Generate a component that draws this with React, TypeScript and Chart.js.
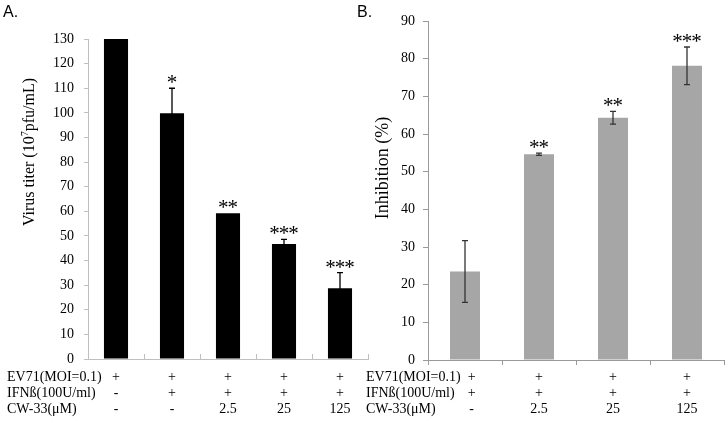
import { useEffect, useRef } from 'react';
import { Chart, registerables } from 'chart.js';

Chart.register(...registerables);

// ---------- Data ----------
const rowLabels = ['EV71(MOI=0.1)', 'IFNß(100U/ml)', 'CW-33(μM)'];

// Panel A: virus titer
const categoriesA = ['Virus', 'IFN', 'CW-33 2.5', 'CW-33 25', 'CW-33 125'];
const virusTiter = [130, 99.8, 59.2, 46.7, 28.7];
const virusTiterErr = [0, 10.2, 0, 1.9, 6.4];
const starsA = ['', '*', '**', '***', '***'];
const rowValuesA = [
  ['+', '+', '+', '+', '+'],
  ['-', '+', '+', '+', '+'],
  ['-', '-', '2.5', '25', '125'],
];
const yMaxA = 130;

// Panel B: inhibition
const categoriesB = ['IFN', 'CW-33 2.5', 'CW-33 25', 'CW-33 125'];
const inhibition = [23.5, 54.6, 64.3, 78.1];
const inhibitionErr = [8.2, 0.3, 1.7, 5.0];
const starsB = ['', '**', '**', '***'];
const rowValuesB = [
  ['+', '+', '+', '+'],
  ['+', '+', '+', '+'],
  ['-', '2.5', '25', '125'],
];
const yMaxB = 90;

const SERIF = '"Liberation Serif", "Times New Roman", serif';
const SANS = '"Liberation Sans", Arial, sans-serif';

type Panel = {
  id: string;
  letter: string;
  letterX: number;
  labels: string[];
  values: number[];
  errors: number[];
  stars: string[];
  rows: string[][];
  yMax: number;
  barColor: string;
  axisColor: string;
  errColor: string;
  barPct: number;
  yWidth: number;
  xHeight: number;
  padTop: number;
  padRight: number;
  tickLen: number;
  tickPad: number;
  insideXTicks: boolean;
  rowLabelX: number;
  titleParts: { text: string; sup?: boolean }[];
  titleX: number;
  titleY: number;
  titleSize: number;
};

function drawStars(ctx: CanvasRenderingContext2D, s: string, cx: number, cy: number) {
  if (!s) return;
  ctx.save();
  ctx.font = `21px ${SERIF}`;
  ctx.fillStyle = '#000';
  ctx.textAlign = 'center';
  ctx.textBaseline = 'alphabetic';
  const m = ctx.measureText('*');
  const off = (m.actualBoundingBoxAscent - m.actualBoundingBoxDescent) / 2;
  const n = s.length;
  const sp = 9.5;
  for (let k = 0; k < n; k++) {
    const x = cx + (k - (n - 1) / 2) * sp;
    ctx.fillText('*', x, cy + off);
  }
  ctx.restore();
}

function makePlugin(p: Panel) {
  return {
    id: 'panel' + p.id,
    afterDatasetsDraw(chart: any) {
      const ctx: CanvasRenderingContext2D = chart.ctx;
      const y = chart.scales.y;
      const meta = chart.getDatasetMeta(0);
      meta.data.forEach((bar: any, i: number) => {
        const v = p.values[i];
        const e = p.errors[i];
        const cx = bar.x;
        const yt = y.getPixelForValue(v + e);
        if (e > 0) {
          const yb = y.getPixelForValue(v - e);
          ctx.save();
          ctx.strokeStyle = p.errColor;
          ctx.lineWidth = 1.3;
          ctx.beginPath();
          ctx.moveTo(cx, yt);
          ctx.lineTo(cx, yb);
          ctx.moveTo(cx - 3, yt);
          ctx.lineTo(cx + 3, yt);
          ctx.moveTo(cx - 3, yb);
          ctx.lineTo(cx + 3, yb);
          ctx.stroke();
          ctx.restore();
        }
        drawStars(ctx, p.stars[i], cx, yt - 9);
      });
    },
    afterDraw(chart: any) {
      const ctx: CanvasRenderingContext2D = chart.ctx;
      const x = chart.scales.x;
      const area = chart.chartArea;
      ctx.save();
      // inside tick marks on x axis
      if (p.insideXTicks) {
        ctx.strokeStyle = p.axisColor;
        ctx.lineWidth = 1;
        const n = p.labels.length;
        const step = (area.right - area.left) / n;
        ctx.beginPath();
        for (let i = 1; i <= n; i++) {
          const px = Math.round(area.left + step * i) + 0.5;
          ctx.moveTo(px, area.bottom);
          ctx.lineTo(px, area.bottom - 5);
        }
        ctx.stroke();
      }
      // row table
      ctx.font = `14px ${SERIF}`;
      ctx.fillStyle = '#000';
      ctx.textBaseline = 'middle';
      const rowYs = [377, 393, 409];
      let maxW = 0;
      rowLabels.forEach((l) => (maxW = Math.max(maxW, ctx.measureText(l).width)));
      const minCol = p.rowLabelX + maxW + 11;
      rowLabels.forEach((l, r) => {
        ctx.textAlign = 'left';
        ctx.fillText(l, p.rowLabelX, rowYs[r]);
        ctx.textAlign = 'center';
        p.rows[r].forEach((val, i) => {
          const cx = Math.max(x.getPixelForValue(i), minCol);
          ctx.fillText(val, cx, rowYs[r]);
        });
      });
      // y title
      ctx.translate(p.titleX, p.titleY);
      ctx.rotate(-Math.PI / 2);
      const mainFont = `${p.titleSize}px ${SERIF}`;
      const supFont = `${Math.round(p.titleSize * 0.65)}px ${SERIF}`;
      let total = 0;
      p.titleParts.forEach((part) => {
        ctx.font = part.sup ? supFont : mainFont;
        total += ctx.measureText(part.text).width;
      });
      let cur = -total / 2;
      ctx.textAlign = 'left';
      ctx.textBaseline = 'middle';
      p.titleParts.forEach((part) => {
        ctx.font = part.sup ? supFont : mainFont;
        ctx.fillText(part.text, cur, part.sup ? -p.titleSize * 0.3 : 0);
        cur += ctx.measureText(part.text).width;
      });
      ctx.restore();
      // panel letter
      ctx.save();
      ctx.font = `16px ${SANS}`;
      ctx.fillStyle = '#000';
      ctx.textAlign = 'left';
      ctx.textBaseline = 'alphabetic';
      ctx.fillText(p.letter, p.letterX, 17);
      ctx.restore();
    },
  };
}

function makeConfig(p: Panel): any {
  return {
    type: 'bar',
    data: {
      labels: p.labels,
      datasets: [
        {
          data: p.values,
          backgroundColor: p.barColor,
          borderWidth: 0,
          barPercentage: p.barPct,
          categoryPercentage: 1,
        },
      ],
    },
    options: {
      responsive: false,
      animation: false,
      devicePixelRatio: 1,
      layout: { padding: { top: p.padTop, right: p.padRight, left: 0, bottom: 0 } },
      plugins: { legend: { display: false }, tooltip: { enabled: false } },
      scales: {
        x: {
          offset: true,
          ticks: { display: false },
          grid: {
            display: !p.insideXTicks,
            drawOnChartArea: false,
            tickLength: 5,
            color: p.axisColor,
            offset: true,
          },
          border: { display: true, color: p.axisColor, width: 1 },
          afterFit: (s: any) => {
            s.height = p.xHeight;
          },
        },
        y: {
          min: 0,
          max: p.yMax,
          ticks: {
            stepSize: 10,
            color: '#000',
            font: { family: SERIF, size: 14 },
            padding: p.tickPad,
          },
          grid: {
            drawOnChartArea: false,
            tickLength: p.tickLen,
            color: p.axisColor,
          },
          border: { display: true, color: p.axisColor, width: 1 },
          afterFit: (s: any) => {
            s.width = p.yWidth;
          },
        },
      },
    },
    plugins: [makePlugin(p)],
  };
}

const panelA: Panel = {
  id: 'A',
  letter: 'A.',
  letterX: 3,
  labels: categoriesA,
  values: virusTiter,
  errors: virusTiterErr,
  stars: starsA,
  rows: rowValuesA,
  yMax: yMaxA,
  barColor: '#000000',
  axisColor: '#bfbfbf',
  errColor: '#000000',
  barPct: 0.43,
  yWidth: 88,
  xHeight: 64,
  padTop: 39,
  padRight: 4,
  tickLen: 4,
  tickPad: 10,
  insideXTicks: true,
  rowLabelX: 7,
  titleParts: [{ text: 'Virus titer (10' }, { text: '7', sup: true }, { text: 'pfu/mL)' }],
  titleX: 30,
  titleY: 152,
  titleSize: 16,
};

const B_LEFT = 345;
const panelB: Panel = {
  id: 'B',
  letter: 'B.',
  letterX: 357 - B_LEFT,
  labels: categoriesB,
  values: inhibition,
  errors: inhibitionErr,
  stars: starsB,
  rows: rowValuesB,
  yMax: yMaxB,
  barColor: '#a6a6a6',
  axisColor: '#9a9a9a',
  errColor: '#333333',
  barPct: 0.405,
  yWidth: 83,
  xHeight: 63,
  padTop: 21,
  padRight: 4,
  tickLen: 5,
  tickPad: 8,
  insideXTicks: false,
  rowLabelX: 366 - B_LEFT,
  titleParts: [{ text: 'Inhibition (%)' }],
  titleX: 383 - B_LEFT,
  titleY: 168,
  titleSize: 18,
};

export default function App() {
  const refA = useRef<HTMLCanvasElement>(null);
  const refB = useRef<HTMLCanvasElement>(null);
  useEffect(() => {
    const a = new Chart(refA.current as HTMLCanvasElement, makeConfig(panelA));
    const b = new Chart(refB.current as HTMLCanvasElement, makeConfig(panelB));
    return () => {
      a.destroy();
      b.destroy();
    };
  }, []);
  return (
    <div
      style={{
        position: 'fixed',
        left: 0,
        top: 0,
        width: 728,
        height: 423,
        background: '#ffffff',
        overflow: 'hidden',
      }}
    >
      <canvas
        ref={refA}
        width={372}
        height={423}
        style={{ position: 'absolute', left: 0, top: 0, width: 372, height: 423 }}
      />
      <canvas
        ref={refB}
        width={383}
        height={423}
        style={{ position: 'absolute', left: B_LEFT, top: 0, width: 383, height: 423 }}
      />
    </div>
  );
}
